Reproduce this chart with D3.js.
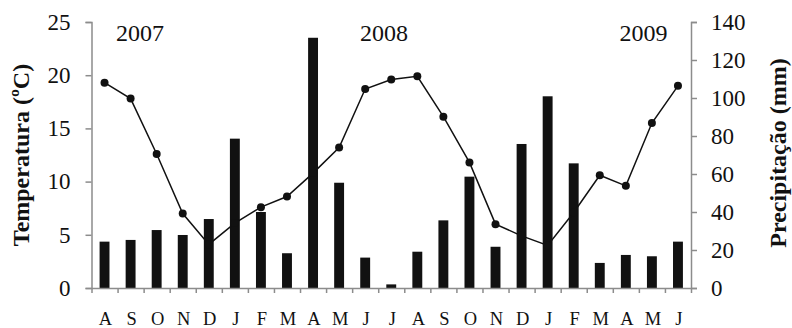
<!DOCTYPE html>
<html>
<head>
<meta charset="utf-8">
<script src="https://cdn.jsdelivr.net/npm/d3@7"></script>
</head>
<body style="margin:0;background:#fff">
<svg id="fig" width="792" height="328" style="display:block"></svg>
<script>
// Monthly mean temperature (ºC) and total precipitation (mm), Aug 2007 to Jun 2009
const months = ["A","S","O","N","D","J","F","M","A","M","J","J","A","S","O","N","D","J","F","M","A","M","J"];
const temperature = [19.3, 17.8, 12.6, 7.0, 4.1, 6.1, 7.6, 8.6, 10.8, 13.2, 18.7, 19.6,
                     19.9, 16.1, 11.8, 6.0, 4.9, 4.0, 7.1, 10.6, 9.6, 15.5, 19.0];
const precipitation = [24.4, 25.3, 30.5, 27.9, 36.3, 78.6, 40.0, 18.3, 131.7, 55.4, 16.0, 1.9,
                       19.1, 35.6, 58.6, 21.7, 75.8, 100.9, 65.6, 13.2, 17.4, 16.7, 24.4];
const tempTicks = [0, 5, 10, 15, 20, 25];
const precTicks = [0, 20, 40, 60, 80, 100, 120, 140];
const yearLabels = ["2007", "2008", "2009"];
const yearSlots = [1.86, 11.22, 21.18];   // horizontal position, in month steps from the left axis

const svg = d3.select("#fig");
const m = { left: 91.5, right: 691, top: 22, bottom: 288 };

const keys = months.map((d, i) => i);
const x = d3.scaleBand().domain(keys).range([m.left, m.right]).paddingInner(0.62).paddingOuter(0.31);
const yT = d3.scaleLinear().domain([0, 25]).range([m.bottom, m.top]);
const yP = d3.scaleLinear().domain([0, 140]).range([m.bottom, m.top]);
const step = x.step();
const cx = i => x(i) + x.bandwidth() / 2;
const axisColor = "#8c8c8c";

function label(sel, size, bold) {
  return sel.attr("style", `font-family:'Liberation Serif';font-size:${size}px;font-weight:${bold ? "bold" : "normal"}`)
    .attr("fill", "#111");
}

// precipitation bars
svg.append("g").selectAll("rect").data(precipitation).join("rect")
  .attr("x", (d, i) => x(i))
  .attr("width", x.bandwidth())
  .attr("y", d => yP(d))
  .attr("height", d => yP(0) - yP(d))
  .attr("fill", "#111");

// temperature line with markers
const line = d3.line().x((d, i) => cx(i)).y(d => yT(d));
svg.append("path").datum(temperature)
  .attr("d", line).attr("fill", "none").attr("stroke", "#111").attr("stroke-width", 1.5);
svg.append("g").selectAll("circle").data(temperature).join("circle")
  .attr("cx", (d, i) => cx(i)).attr("cy", d => yT(d)).attr("r", 4).attr("fill", "#111");

function styleAxis(g) {
  g.attr("font-family", null).attr("font-size", null);
  g.selectAll("path, line").attr("stroke", axisColor).attr("stroke-width", 1.5);
  label(g.selectAll("text"), 23, false);
}

svg.append("g").attr("transform", `translate(${m.left},0)`)
  .call(d3.axisLeft(yT).tickValues(tempTicks).tickSize(6).tickSizeOuter(6).tickPadding(15))
  .call(styleAxis);
svg.append("g").attr("transform", `translate(${m.right},0)`)
  .call(d3.axisRight(yP).tickValues(precTicks).tickSize(6).tickSizeOuter(6).tickPadding(14))
  .call(styleAxis);

// category axis: ticks at month boundaries
const xBound = d3.scaleLinear().domain([0, months.length]).range([m.left, m.right]);
svg.append("g").attr("transform", `translate(0,${m.bottom})`)
  .call(d3.axisBottom(xBound).tickValues(d3.range(0, months.length + 1)).tickSize(5).tickSizeOuter(0).tickFormat(""))
  .call(styleAxis);

label(svg.append("g").selectAll("text").data(months).join("text"), 18.5, false)
  .attr("x", (d, i) => cx(i) + 1).attr("y", 325).attr("text-anchor", "middle")
  .text(d => d);

// year annotations
label(svg.append("g").selectAll("text").data(yearLabels).join("text"), 24, false)
  .attr("x", (d, i) => m.left + yearSlots[i] * step).attr("y", 41).attr("text-anchor", "middle")
  .text(d => d);

// axis titles
label(svg.append("text"), 24, true)
  .attr("transform", `translate(29,${(m.top + m.bottom) / 2}) rotate(-90)`)
  .attr("text-anchor", "middle")
  .text("Temperatura (ºC)");
label(svg.append("text"), 24, true)
  .attr("transform", `translate(786,${(m.top + m.bottom) / 2 - 2}) rotate(-90)`)
  .attr("text-anchor", "middle")
  .text("Precipitação (mm)");
</script>
</body>
</html>
